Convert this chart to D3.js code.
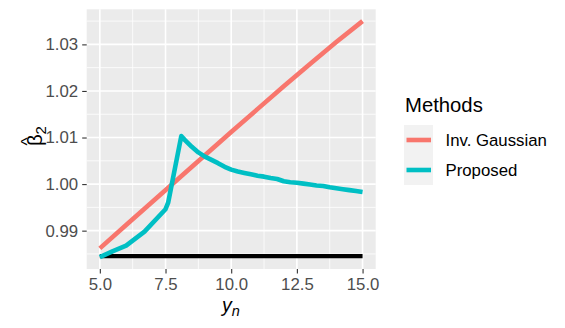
<!DOCTYPE html>
<html>
<head>
<meta charset="utf-8">
<script src="https://cdn.jsdelivr.net/npm/d3@7"></script>
<style>
  body { margin: 0; background: #fff; }
  text { font-family: "Liberation Sans", Arial, sans-serif; }
</style>
</head>
<body>
<div id="canvas"></div>
<script>
// data
const invX = [5, 6, 7, 8, 9, 10, 11, 12, 13, 14, 15];
const invY = [0.9862, 0.9912, 0.9962, 1.0012, 1.0062, 1.0112, 1.0161, 1.0210, 1.0258, 1.0305, 1.0350];

const propX = [5, 5.5, 6, 6.7, 7.5, 7.6, 8.1, 8.25, 8.5, 8.75, 9, 9.25, 9.5, 9.75, 10, 10.25, 10.5, 10.75, 11,
  11.25, 11.5, 11.75, 12, 12.25, 12.5, 12.75, 13, 13.25, 13.5, 13.75, 14, 14.25, 14.5, 14.75, 15];
const propY = [0.9843, 0.9856, 0.9868, 0.9898, 0.9946, 0.9960, 1.0103, 1.0094, 1.0080, 1.0068, 1.0059, 1.0052,
  1.0045, 1.0037, 1.0031, 1.0027, 1.0024, 1.0021, 1.0018, 1.0016, 1.0013, 1.0011, 1.0006, 1.0004, 1.0003,
  1.0001, 0.9999, 0.9997, 0.9996, 0.9993, 0.9991, 0.9989, 0.9987, 0.9985, 0.9983];

const trueX = [5, 15];
const trueY = [0.98455, 0.98455];

const xTicks = [5, 7.5, 10, 12.5, 15];
const yTicks = [0.99, 1.00, 1.01, 1.02, 1.03];
const methods = ["Inv. Gaussian", "Proposed"];
const colors = ["#F8766D", "#00BFC4"];

const width = 565, height = 328;
const panel = { left: 86.7, top: 9.3, right: 375.7, bottom: 269 };

const svg = d3.select("#canvas").append("svg")
  .attr("width", width).attr("height", height);

const x = d3.scaleLinear().domain([4.5, 15.5]).range([panel.left, panel.right]);
const allY = invY.concat(propY, trueY);
const yMin = d3.min(allY), yMax = d3.max(allY), pad = (yMax - yMin) * 0.05;
const y = d3.scaleLinear().domain([yMin - pad, yMax + pad]).range([panel.bottom, panel.top]);

// panel background
svg.append("rect")
  .attr("x", panel.left).attr("y", panel.top)
  .attr("width", panel.right - panel.left).attr("height", panel.bottom - panel.top)
  .attr("fill", "#EBEBEB");

// minor grid
const xMinor = [6.25, 8.75, 11.25, 13.75];
const yMinor = [0.985, 0.995, 1.005, 1.015, 1.025, 1.035];
const grid = svg.append("g");
grid.selectAll(".xm").data(xMinor).enter().append("line")
  .attr("x1", d => x(d)).attr("x2", d => x(d))
  .attr("y1", panel.top).attr("y2", panel.bottom)
  .attr("stroke", "#fff").attr("stroke-width", 0.8);
grid.selectAll(".ym").data(yMinor).enter().append("line")
  .attr("y1", d => y(d)).attr("y2", d => y(d))
  .attr("x1", panel.left).attr("x2", panel.right)
  .attr("stroke", "#fff").attr("stroke-width", 0.8);
// major grid
grid.selectAll(".xM").data(xTicks).enter().append("line")
  .attr("x1", d => x(d)).attr("x2", d => x(d))
  .attr("y1", panel.top).attr("y2", panel.bottom)
  .attr("stroke", "#fff").attr("stroke-width", 1.6);
grid.selectAll(".yM").data(yTicks).enter().append("line")
  .attr("y1", d => y(d)).attr("y2", d => y(d))
  .attr("x1", panel.left).attr("x2", panel.right)
  .attr("stroke", "#fff").attr("stroke-width", 1.6);

// lines
const line = d3.line().x(d => x(d[0])).y(d => y(d[1]));
svg.append("path")
  .datum(d3.zip(trueX, trueY))
  .attr("d", line).attr("fill", "none")
  .attr("stroke", "#000").attr("stroke-width", 4.2);
svg.append("path")
  .datum(d3.zip(invX, invY))
  .attr("d", line).attr("fill", "none")
  .attr("stroke", colors[0]).attr("stroke-width", 4.6);
svg.append("path")
  .datum(d3.zip(propX, propY))
  .attr("d", line).attr("fill", "none")
  .attr("stroke", colors[1]).attr("stroke-width", 4.6)
  .attr("stroke-linejoin", "round");

// axes
const xAxis = svg.append("g")
  .attr("transform", `translate(0,${panel.bottom})`)
  .call(d3.axisBottom(x).tickValues(xTicks).tickFormat(d3.format(".1f")).tickSize(4.5).tickPadding(4.5));
const yAxis = svg.append("g")
  .attr("transform", `translate(${panel.left},0)`)
  .call(d3.axisLeft(y).tickValues(yTicks).tickFormat(d3.format(".2f")).tickSize(4.5).tickPadding(4));
[xAxis, yAxis].forEach(a => {
  a.select(".domain").remove();
  a.selectAll(".tick line").attr("stroke", "#333").attr("stroke-width", 1.1);
  a.selectAll(".tick text").attr("fill", "#4D4D4D")
    .style("font-size", "16.8px").style("font-family", "'Liberation Sans', Arial, sans-serif");
});

// axis titles
const xt = svg.append("text")
  .attr("x", 231).attr("y", 312)
  .attr("text-anchor", "middle")
  .style("font-size", "19.5px").style("font-style", "italic");
xt.append("tspan").text("y");
xt.append("tspan").attr("dy", 4).style("font-size", "14.5px").text("n");

const yt = svg.append("g").attr("transform", "translate(42,140) rotate(-90)");
yt.append("text").attr("x", -6).attr("y", 0)
  .style("font-size", "20.5px").text("β");
yt.append("text").attr("x", -5.5).attr("y", -9)
  .style("font-size", "17px").text("^");
yt.append("text").attr("x", 5.5).attr("y", 4)
  .style("font-size", "15px").text("2");

// legend
const lg = svg.append("g");
lg.append("text").attr("x", 405).attr("y", 111.5)
  .style("font-size", "20.3px").attr("fill", "#000").text("Methods");
methods.forEach((m, i) => {
  const ky = 125 + i * 30;
  lg.append("rect").attr("x", 404).attr("y", ky).attr("width", 29).attr("height", 30)
    .attr("fill", "#F2F2F2");
  lg.append("line").attr("x1", 406.5).attr("x2", 431).attr("y1", ky + 15).attr("y2", ky + 15)
    .attr("stroke", colors[i]).attr("stroke-width", 4.6);
  lg.append("text").attr("x", 445.5).attr("y", ky + 21)
    .style("font-size", "16.8px").attr("fill", "#000").text(m);
});
</script>
</body>
</html>
